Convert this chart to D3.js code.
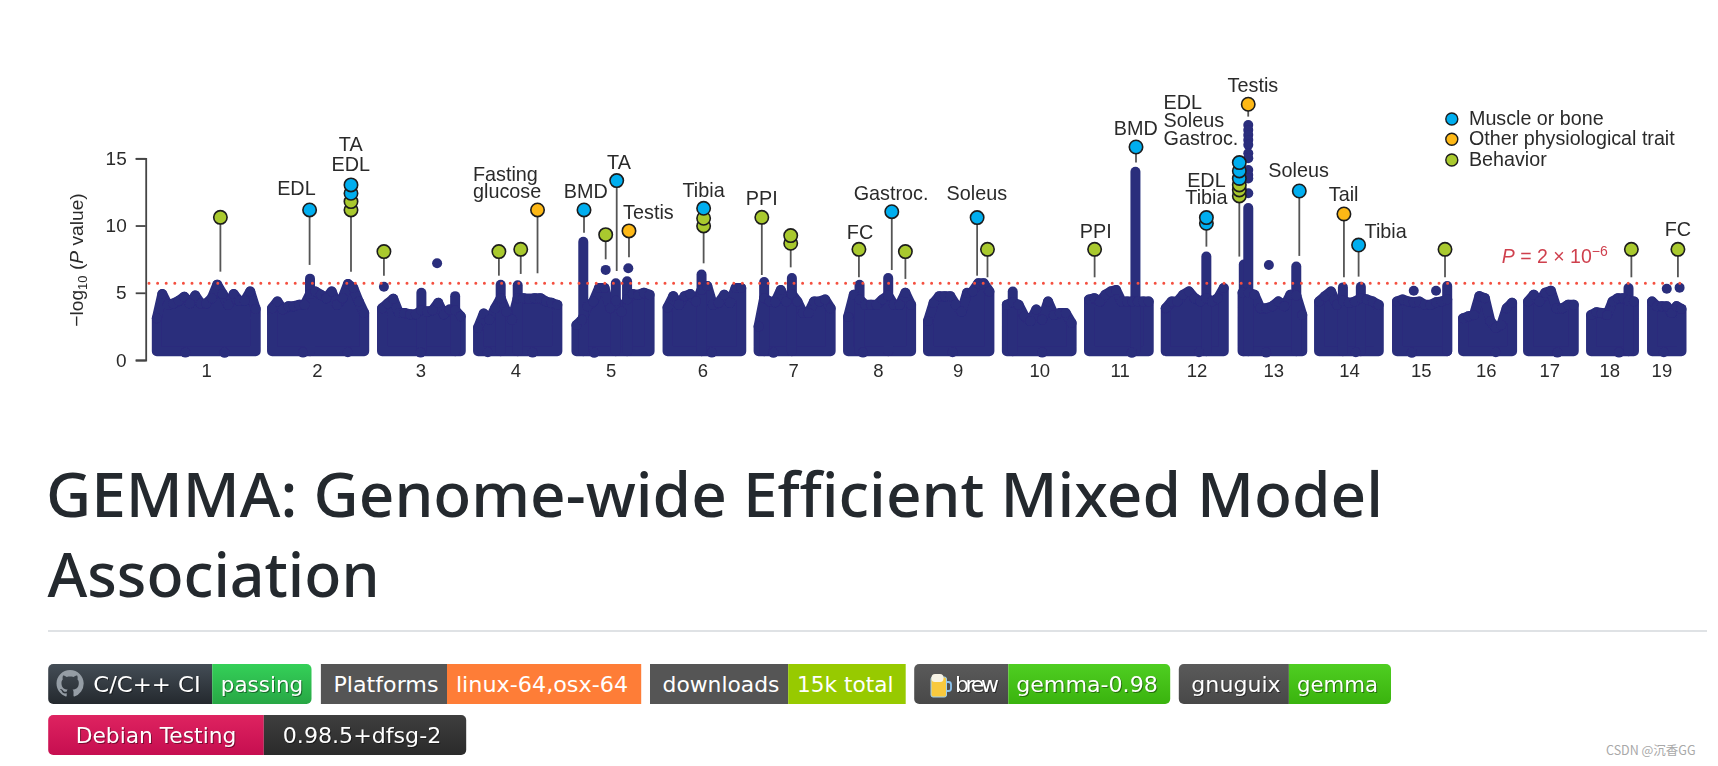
<!DOCTYPE html>
<html>
<head>
<meta charset="utf-8">
<script src="https://d3js.org/d3.v7.min.js"></script>
<style>
html,body{margin:0;padding:0;background:#fff;overflow:hidden}
svg{display:block}
.chart text{font-family:"Liberation Sans",Arial,sans-serif;fill:#2b2b2b}
.badge text{font-family:"DejaVu Sans",Verdana,sans-serif;fill:#fff;font-size:22px;text-anchor:middle}
.badge text.shadow{filter:drop-shadow(1px 1px 0 rgba(0,0,0,.4))}
</style>
</head>
<body>
<svg id="root" width="1718" height="766" viewBox="0 0 1718 766"></svg>
<script>
// ---------- data ----------
const chromosomes = ["1","2","3","4","5","6","7","8","9","10","11","12","13","14","15","16","17","18","19"];
const chromStart = [8.95,214.7,411.1,582.6,758.3,921,1083.6,1243.3,1386.1,1526.9,1673.6,1810.6,1947.8,2084.4,2223.6,2341.5,2457.6,2570.1,2679];
const chromLength = [176.6,164.6,140.6,141.6,130.6,131.6,128.6,112.6,109.6,115.6,106.6,103.6,106.6,106.6,89.6,87.6,81.6,76.6,52.6];
const chromLabelPos = [97,294.6,479.6,649.3,819.5,983.4,1145.4,1296.6,1438.8,1584.8,1728.2,1865.4,2002.5,2137.7,2265.9,2382,2495.5,2602.7,2695.7];

// Upper edge of the dense cloud: -log10(P) per evenly spaced bin along each chromosome
const peaks1 = [3.1,4.9,4.1,4.2,4.4,4.7,4.2,4.8,4.2,4.2,4.6,5.6,4.9,4.1,4.9,4.4,4.4,5.1,3.8];
const peaks2 = [3.85,4.35,3.75,4.0,4.0,4.1,4.1,4.9,5.1,4.85,4.6,5.1,4.1,4.6,5.65,5.35,4.35,3.5];
const peaks3 = [3.85,4.2,4.55,3.5,3.5,3.4,3.4,3.7,3.6,3.7,4.25,3.4,3.75,3.7,3.25];
const peaks4 = [2.4,3.45,3.0,3.85,4.6,3.6,3.0,4.6,4.6,4.55,4.6,4.6,4.35,4.25,4.1];
const peaks5 = [2.6,3.0,4.0,4.35,5.35,5.35,3.85,4.4,3.6,4.5,4.9,4.85,5.0,4.85];
const peaks6 = [3.9,4.75,4.1,4.75,4.9,4.35,5.2,5.5,4.1,4.25,4.85,4.25,5.35,5.35];
const peaks7 = [2.5,4.6,4.35,4.3,5.2,4.35,4.9,4.35,3.5,3.5,4.35,4.35,4.5,3.85];
const peaks8 = [3.2,4.85,4.5,4.1,4.1,4.1,4.5,4.8,4.1,4.1,5.0,4.1];
const peaks9 = [2.9,4.25,4.75,4.75,4.75,4.1,3.6,5.0,5.1,5.7,5.7,5.1];
const peaks10 = [4.1,4.3,4.1,3.25,2.9,3.75,3.0,4.35,3.35,3.5,3.5,2.75];
const peaks11 = [4.5,4.6,4.35,4.85,5.1,5.2,4.35,4.35,4.35,4.35,4.35,4.35];
const peaks12 = [3.85,4.35,4.35,4.85,5.1,4.6,4.35,4.6,4.35,4.6,5.35];
const peaks13 = [5.0,5.0,4.85,3.85,3.85,4.0,4.35,4.0,4.85,4.8,3.35];
const peaks14 = [4.35,4.75,5.1,4.1,4.4,4.25,4.35,4.6,4.5,4.35,4.1];
const peaks15 = [4.35,4.5,4.35,4.3,4.35,4.1,4.1,4.3,4.35,4.5];
const peaks16 = [3.1,3.25,3.35,4.75,4.6,2.9,2.4,2.6,3.85,4.25];
const peaks17 = [4.35,4.85,4.35,5.0,5.15,3.85,3.85,4.1,4.1];
const peaks18 = [3.35,3.55,3.5,3.35,4.35,4.6,4.6,4.4,4.35];
const peaks19 = [4.35,4.0,4.0,4.0,3.5,4.0,3.8];
const allPeaks = [peaks1,peaks2,peaks3,peaks4,peaks5,peaks6,peaks7,peaks8,peaks9,peaks10,peaks11,peaks12,peaks13,peaks14,peaks15,peaks16,peaks17,peaks18,peaks19];
const cloudFloor = 0.66;

// Narrow solid towers rising out of the cloud [genome position, -log10 P]
const towerPos = [282.5,481.4,541.7,623,653.4,770.5,828.6,848.7,981.7,1093.5,1143,1263.8,1315,1537.4,1756.5,1883.1,1950,1958,2043.7,2127,2159,2313.2,2637];
const towerVal = [6.05,5.0,4.75,5.6,5.55,8.79,5.7,5.85,6.35,5.8,6.1,5.6,6.1,5.1,14.0,7.7,7.1,11.3,6.95,5.4,5.45,5.5,5.35];

// Isolated SNPs above the cloud [genome position, -log10 P]
const loosePos = [509.5,414.5,810.5,850.9,1994.8,2728.2,2253.5,2293.3,2705.3];
const looseVal = [7.19,5.45,6.7,6.82,7.07,5.38,5.15,5.15,5.3];
// Chromosome 13 spike, broken into separate clusters above the solid part
const spikePos = 1958;
const spikeVal = [17.48,17.1,16.74,16.37,16.0,15.37,15.0,14.13,13.76,13.5,12.4];
// Lowest SNPs poking out under the cloud
const lowPos = [60,130,270,350,480,600,680,790,1000,1110,1270,1430,1590,1750,1870,1990,2150,2250,2400,2510,2620,2700];
const lowVal = [0.55,0.53,0.55,0.57,0.55,0.57,0.55,0.53,0.55,0.53,0.55,0.57,0.55,0.53,0.57,0.55,0.57,0.53,0.57,0.55,0.55,0.57];

// Lollipop annotations: position, stem bottom, category, head values
const lolliPos = [122.5,281.8,355.7,414.5,619.8,658.8,688.8,771.8,810.5,830.2,852.1,985.4,1089.3,1140.9,1262.7,1321.4,1345.7,1473.8,1492.3,1683.6,1757.5,1883.2,1942,1957.9,2049.1,2128.8,2155,2309.3,2642.1,2725.2];
const lolliBase = [6.57,7.07,6.57,6.27,6.27,6.4,6.45,9.47,7.49,6.62,7.64,7.19,6.32,6.89,6.15,6.69,6.03,6.27,6.15,6.15,14.68,8.43,7.69,18.1,7.74,6.15,6.2,6.15,6.15,6.15];
const lolliHeads = [
 [[10.61,"b"]],[[11.16,"m"]],[[11.16,"b"],[11.78,"b"],[12.4,"m"],[13.02,"m"]],[[8.06,"b"]],[[8.06,"b"]],[[8.23,"b"]],[[11.16,"o"]],
 [[11.16,"m"]],[[9.32,"b"]],[[13.34,"m"]],[[9.6,"o"]],[[9.97,"b"],[10.54,"b"],[11.28,"m"]],[[10.61,"b"]],[[8.68,"b"],[9.25,"b"]],
 [[8.23,"b"]],[[11.03,"m"]],[[8.06,"b"]],[[10.59,"m"]],[[8.23,"b"]],[[8.23,"b"]],[[15.84,"m"]],[[10.17,"m"],[10.59,"m"]],
 [[12.2,"b"],[12.65,"b"],[13.02,"b"],[13.5,"m"],[14.06,"m"],[14.68,"m"]],[[19.02,"o"]],[[12.57,"m"]],[[10.86,"o"]],[[8.55,"m"]],[[8.23,"b"]],[[8.23,"b"]],[[8.23,"b"]]
];
const threshold = 5.7;
const yTicks = [0,5,10,15];
const legendNames = ["Muscle or bone","Other physiological trait","Behavior"];
const legendKeys = ["m","o","b"];
const annotationTexts = ["EDL","TA","EDL","Fasting","glucose","BMD","TA","Testis","Tibia","PPI","FC","Gastroc.","Soleus","PPI","BMD","Testis","EDL","Soleus","Gastroc.","EDL","Tibia","Soleus","Tail","Tibia","FC"];
const titleLines = ["GEMMA: Genome-wide Efficient Mixed Model","Association"];
const badgeLeft = ["C/C++ CI","Platforms","downloads","brew","gnuguix","Debian Testing"];
const badgeRight = ["passing","linux-64,osx-64","15k total","gemma-0.98","gemma","0.98.5+dfsg-2"];
const watermark = "CSDN @沉香GG";

// ---------- layout & style ----------
const catColor = {m:"#00aeef",o:"#fdb813",b:"#a9c92e"};
const annotationLayout = [
 [296.4,195,"middle"],[350.7,151,"middle"],[350.7,170.7,"middle"],[473,181,"start"],[473,198,"start"],[585.7,198.3,"middle"],
 [619,169.3,"middle"],[648.4,219.3,"middle"],[703.6,197.3,"middle"],[761.8,205,"middle"],[860,239,"middle"],[891,200,"middle"],
 [976.8,200,"middle"],[1095.7,238.3,"middle"],[1135.7,135,"middle"],[1252.9,91.7,"middle"],[1163.6,109.3,"start"],[1163.6,126.7,"start"],
 [1163.6,145,"start"],[1206.4,186.7,"middle"],[1206.4,204,"middle"],[1298.6,176.7,"middle"],[1343.6,201,"middle"],[1385.7,237.7,"middle"],[1677.9,236,"middle"]];

const svg = d3.select("#root");
const defs = svg.append("defs");
defs.append("filter").attr("id","soft").attr("x","-2%").attr("y","-5%").attr("width","104%").attr("height","110%")
  .append("feGaussianBlur").attr("stdDeviation",0.7);

const x = d3.scaleLinear().domain([0,2740]).range([151.8,1686.2]);
const y = d3.scaleLinear().domain([0,15]).range([360,158.3]);

const chart = svg.append("g").attr("class","chart").attr("filter","url(#soft)");
const DOT = 10;
const BLUE = "#2a2d7c";

// Dense cloud: an area per chromosome, its outline as wide as one SNP dot
const area = d3.area().x(d=>x(d.pos)).y0(y(cloudFloor)).y1(d=>y(d.v));
const cloud = allPeaks.map((vals,c)=>vals.map((v,i)=>({pos:chromStart[c]+chromLength[c]*i/(vals.length-1),v})));
chart.append("g").selectAll("path").data(cloud).join("path")
  .attr("d",area).attr("fill",BLUE).attr("stroke",BLUE).attr("stroke-width",DOT).attr("stroke-linejoin","round");

// Towers
chart.append("g").selectAll("line").data(towerPos.map((p,i)=>({pos:p,v:towerVal[i]}))).join("line")
  .attr("x1",d=>x(d.pos)).attr("x2",d=>x(d.pos))
  .attr("y1",y(cloudFloor)).attr("y2",d=>y(d.v))
  .attr("stroke",BLUE).attr("stroke-width",DOT).attr("stroke-linecap","round");

// Individual SNPs
const dots = loosePos.map((p,i)=>({pos:p,v:looseVal[i]}))
  .concat(spikeVal.map(v=>({pos:spikePos,v})))
  .concat(lowPos.map((p,i)=>({pos:p,v:lowVal[i]})))
  .concat(cloud.flat());
chart.append("g").selectAll("circle").data(dots).join("circle")
  .attr("cx",d=>x(d.pos)).attr("cy",d=>y(d.v)).attr("r",DOT/2).attr("fill",BLUE);

// Threshold
chart.append("line").attr("x1",149).attr("x2",1688).attr("y1",y(threshold)).attr("y2",y(threshold))
  .attr("stroke","#f4503f").attr("stroke-width",3).attr("stroke-linecap","round").attr("stroke-dasharray","0 8.6");

// Lollipops
const lolli = chart.append("g");
lolliPos.forEach((p,i)=>{
  const heads = lolliHeads[i];
  lolli.append("line").attr("x1",x(p)).attr("x2",x(p)).attr("y1",y(lolliBase[i])).attr("y2",y(heads[0][0]))
    .attr("stroke","#555").attr("stroke-width",1.8);
  lolli.selectAll(null).data(heads).join("circle")
    .attr("cx",x(p)).attr("cy",d=>y(d[0])).attr("r",6.7)
    .attr("fill",d=>catColor[d[1]]).attr("stroke","#1c1c1c").attr("stroke-width",1.6);
});

// Axes
const yAxis = chart.append("g").attr("transform","translate(145.7,0)").call(
  d3.axisLeft(y).tickValues(yTicks).tickSize(10).tickPadding(9));
yAxis.selectAll("path,line").attr("stroke","#444").attr("stroke-width",1.8);
yAxis.selectAll("text").style("font-size","19px");
const xAxis = chart.append("g").attr("transform","translate(0,364)").call(
  d3.axisBottom(x).tickValues(chromLabelPos).tickFormat((d,i)=>chromosomes[i]).tickSize(0).tickPadding(0));
xAxis.select(".domain").remove();
xAxis.selectAll("text").style("font-size","18.5px");

// y title
const yt = chart.append("text").attr("transform","translate(83,260) rotate(-90)").attr("text-anchor","middle").style("font-size","19.2px");
yt.append("tspan").text("−log");
yt.append("tspan").attr("dy",4).style("font-size","13px").text("10");
yt.append("tspan").attr("dy",-4).text(" (");
yt.append("tspan").style("font-style","italic").text("P");
yt.append("tspan").text(" value)");

// Annotation labels
chart.append("g").selectAll("text").data(annotationTexts).join("text")
  .attr("x",(d,i)=>annotationLayout[i][0]).attr("y",(d,i)=>annotationLayout[i][1])
  .attr("text-anchor",(d,i)=>annotationLayout[i][2]).style("font-size","19.8px").text(d=>d);

// P threshold label
const pl = chart.append("text").attr("x",1501.8).attr("y",263.3).style("font-size","19.5px").style("fill","#cf3f4d");
pl.append("tspan").style("font-style","italic").text("P");
pl.append("tspan").text(" = 2 × 10");
pl.append("tspan").attr("dy",-7).style("font-size","14px").text("−6");

// Legend
const lg = chart.append("g").selectAll("g").data(legendNames).join("g")
  .attr("transform",(d,i)=>`translate(1451.8,${[119,139.3,160][i]})`);
lg.append("circle").attr("r",6).attr("fill",(d,i)=>catColor[legendKeys[i]]).attr("stroke","#1c1c1c").attr("stroke-width",1.4);
lg.append("text").attr("x",17.2).attr("y",6).style("font-size","19.7px").text(d=>d);

// Heading
const title = svg.append("g").style("font-family",'"Noto Sans","Open Sans",sans-serif').style("font-weight",500).style("font-size","61px").attr("fill","#24292e");
title.selectAll("text").data(titleLines).join("text")
  .attr("x",(d,i)=>[46,47.5][i]).attr("y",(d,i)=>[516.7,596.7][i])
  .attr("textLength",(d,i)=>[1337,332][i]).attr("lengthAdjust","spacingAndGlyphs").text(d=>d);
svg.append("rect").attr("x",48).attr("y",630).attr("width",1659).attr("height",2).attr("fill","#dfe2e5");

// Badges
function grad(id,a,b){
  const g = defs.append("linearGradient").attr("id",id).attr("x1",0).attr("x2",0).attr("y1",0).attr("y2",1);
  g.append("stop").attr("offset",0).attr("stop-color",a);
  g.append("stop").attr("offset",1).attr("stop-color",b);
  return `url(#${id})`;
}
function box(x0,y0,x1,y1,rl,rr){
  const p = d3.path();
  p.moveTo(x0+rl,y0); p.lineTo(x1-rr,y0); p.arcTo(x1,y0,x1,y0+rr,rr); p.lineTo(x1,y1-rr); p.arcTo(x1,y1,x1-rr,y1,rr);
  p.lineTo(x0+rl,y1); p.arcTo(x0,y1,x0,y1-rl,rl); p.lineTo(x0,y0+rl); p.arcTo(x0,y0,x0+rl,y0,rl); p.closePath();
  return p.toString();
}
const badgeLayout = [
 {x0:48.2,xs:212.2,x1:311.5,y0:664,r:5,lf:grad("g1","#444d56","#24292e"),rf:grad("g2","#34d058","#28a745"),lc:147,lw:107.5,rc:262,rw:82.3,sh:true},
 {x0:320.9,xs:447,x1:641.2,y0:664,r:0,lf:"#555555",rf:"#fe7d37",lc:386,lw:105,rc:542,rw:172.2,sh:false},
 {x0:650,xs:788.2,x1:905.7,y0:664,r:0,lf:"#555555",rf:"#97ca00",lc:721,lw:116.8,rc:845.3,rw:96.5,sh:false},
 {x0:914.2,xs:1008.3,x1:1170.2,y0:664,r:5,lf:grad("g3","#5a5a5a","#484848"),rf:grad("g4","#4fce22","#3ab30e"),lc:977,lw:44,rc:1087,rw:141.7,sh:true},
 {x0:1178.8,xs:1288.9,x1:1391,y0:664,r:5,lf:grad("g5","#5a5a5a","#484848"),rf:grad("g6","#4fce22","#3ab30e"),lc:1236,lw:89.3,rc:1337.5,rw:81.1,sh:true},
 {x0:48.2,xs:263.8,x1:466.2,y0:715,r:5,lf:grad("g7","#de2360","#c60e50"),rf:grad("g8","#3e3e3e","#2a2a2a"),lc:156,lw:160.7,rc:362,rw:158.5,sh:true}
];
const H = 40, BASE = 27.7;
const badges = svg.append("g").attr("class","badge");
badgeLayout.forEach((b,i)=>{
  const g = badges.append("g");
  g.append("path").attr("d",box(b.x0,b.y0,b.xs,b.y0+H,b.r,0)).attr("fill",b.lf);
  g.append("path").attr("d",box(b.xs,b.y0,b.x1,b.y0+H,0,b.r)).attr("fill",b.rf);
  [[badgeLeft[i],b.lc,b.lw],[badgeRight[i],b.rc,b.rw]].forEach(t=>{
    g.append("text").attr("class",b.sh?"shadow":null).attr("x",t[1]).attr("y",b.y0+BASE)
      .attr("textLength",t[2]).attr("lengthAdjust",t[0]==="brew"?"spacing":"spacingAndGlyphs").text(t[0]);
  });
});
// GitHub mark
badges.append("path").attr("transform","translate(56.5,670) scale(1.7)").attr("fill","#959da5")
  .attr("d","M8 0C3.58 0 0 3.58 0 8c0 3.54 2.29 6.53 5.47 7.59.4.07.55-.17.55-.38 0-.19-.01-.82-.01-1.49-2.01.37-2.53-.49-2.69-.94-.09-.23-.48-.94-.82-1.13-.28-.15-.68-.52-.01-.53.63-.01 1.08.58 1.23.82.72 1.21 1.87.87 2.33.66.07-.52.28-.87.51-1.07-1.78-.2-3.64-.89-3.64-3.95 0-.87.31-1.59.82-2.15-.08-.2-.36-1.02.08-2.12 0 0 .67-.21 2.2.82.64-.18 1.32-.27 2-.27.68 0 1.36.09 2 .27 1.53-1.04 2.2-.82 2.2-.82.44 1.1.16 1.92.08 2.12.51.56.82 1.27.82 2.15 0 3.07-1.87 3.75-3.65 3.95.29.25.54.73.54 1.48 0 1.07-.01 1.93-.01 2.2 0 .21.15.46.55.38A8.013 8.013 0 0016 8c0-4.42-3.58-8-8-8z");
// Beer mug icon
const mug = badges.append("g");
mug.append("rect").attr("x",945).attr("y",682).attr("width",6).attr("height",9).attr("rx",2.5).attr("fill","none").attr("stroke","#8cc4f0").attr("stroke-width",1.8);
mug.append("rect").attr("x",931).attr("y",677).attr("width",15.5).attr("height",20).attr("rx",2).attr("fill","#f8c93e").attr("stroke","#9fd0f0").attr("stroke-width",1);
mug.append("rect").attr("x",931.5).attr("y",674).attr("width",12).attr("height",8).attr("rx",3.5).attr("fill","#f7f3e6");

// Watermark
svg.append("text").attr("x",1606).attr("y",755).style("font-family",'"Noto Sans CJK SC","Noto Sans",sans-serif').style("font-size","12.5px").attr("fill","#a8a8a8").text(watermark);
</script>
</body>
</html>
